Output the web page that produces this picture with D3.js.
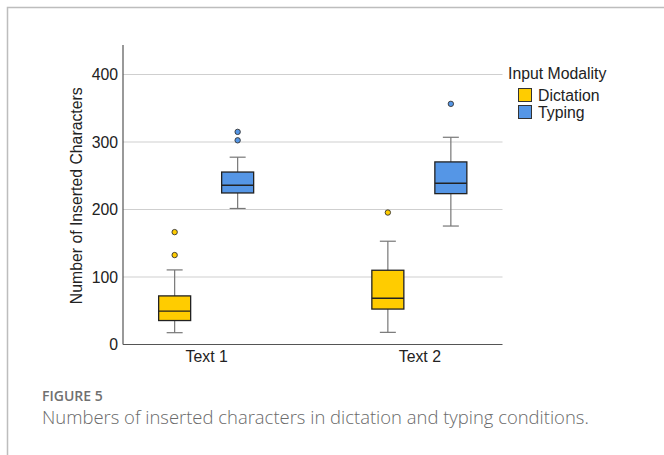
<!DOCTYPE html>
<html><head><meta charset="utf-8">
<script src="https://cdn.jsdelivr.net/npm/d3@7"></script>
<style>body{margin:0;background:#fff;}svg{display:block;}</style>
</head><body>
<svg id="c" width="664" height="455"></svg>
<script>
const categories = ["Text 1", "Text 2"];
const groups = ["Dictation", "Typing"];
const colors = ["#FFCC00", "#5596E6"];
// [whiskerLow, q1, median, q3, whiskerHigh]
const dictationStats = [[17.5, 35.5, 49.5, 72, 110.5], [18, 52.5, 68.5, 110, 153]];
const typingStats = [[201.5, 224.5, 236, 255.5, 277.5], [175.5, 223.5, 239, 270.5, 307]];
const dictationOutliers = [[132.5, 166.5], [195.5]];
const typingOutliers = [[302.5, 315], [356.5]];
const yTicks = [0, 100, 200, 300, 400];

const svg = d3.select("#c");
// frame
svg.append("path").attr("d", "M7.5,455 V7.5 H664").attr("fill", "none").attr("stroke", "#bdbdbd").attr("stroke-width", 1.5);

const L = 123, R = 502.5, T = 45, B = 344.5;
const y = d3.scaleLinear().domain([0, 400]).range([B, B - 270]);
const x = d3.scalePoint().domain(categories).range([L, R]).padding(0.39);
const off = d3.scalePoint().domain(groups).range([-31.5, 31.5]);
const bw = 32;

// gridlines
svg.append("g").selectAll("line").data(yTicks.filter(d => d > 0)).join("line")
  .attr("x1", L).attr("x2", R).attr("y1", d => y(d)).attr("y2", d => y(d))
  .attr("stroke", "#cfcfcf").attr("stroke-width", 1);

const font = "Liberation Sans, Arial, sans-serif";
const fs = 15.8;
// y axis
const ya = svg.append("g").attr("transform", `translate(${L},0)`)
  .call(d3.axisLeft(y).tickValues(yTicks).tickSize(0).tickPadding(5));
ya.select(".domain").remove();
ya.selectAll("text").attr("font-family", font).attr("font-size", fs).attr("fill", "#222");
const xa = svg.append("g").attr("transform", `translate(0,${B})`)
  .call(d3.axisBottom(x).tickSize(0).tickPadding(6.5));
xa.select(".domain").remove();
xa.selectAll("text").attr("font-family", font).attr("font-size", fs).attr("fill", "#222");

// axes lines
svg.append("line").attr("x1", L).attr("x2", L).attr("y1", T).attr("y2", B).attr("stroke", "#555").attr("stroke-width", 1.2);
svg.append("line").attr("x1", L).attr("x2", R).attr("y1", B).attr("y2", B).attr("stroke", "#555").attr("stroke-width", 1.2);

svg.append("text").attr("transform", `translate(81.5,${(T + B) / 2 + 1}) rotate(-90)`)
  .attr("text-anchor", "middle").attr("font-family", font).attr("font-size", fs).attr("fill", "#222")
  .text("Number of Inserted Characters");

const allStats = [dictationStats, typingStats];
const allOut = [dictationOutliers, typingOutliers];
groups.forEach((g, gi) => {
  categories.forEach((c, ci) => {
    const s = allStats[gi][ci];
    const cx = x(c) + off(g);
    const gg = svg.append("g");
    gg.append("line").attr("x1", cx).attr("x2", cx).attr("y1", y(s[0])).attr("y2", y(s[1])).attr("stroke", "#777").attr("stroke-width", 1.2);
    gg.append("line").attr("x1", cx).attr("x2", cx).attr("y1", y(s[3])).attr("y2", y(s[4])).attr("stroke", "#777").attr("stroke-width", 1.2);
    [s[0], s[4]].forEach(v => gg.append("line").attr("x1", cx - 8).attr("x2", cx + 8).attr("y1", y(v)).attr("y2", y(v)).attr("stroke", "#777").attr("stroke-width", 1.2));
    gg.append("rect").attr("x", cx - bw / 2).attr("width", bw).attr("y", y(s[3])).attr("height", y(s[1]) - y(s[3]))
      .attr("fill", colors[gi]).attr("stroke", "#222").attr("stroke-width", 1.3);
    gg.append("line").attr("x1", cx - bw / 2).attr("x2", cx + bw / 2).attr("y1", y(s[2])).attr("y2", y(s[2])).attr("stroke", "#222").attr("stroke-width", 1.4);
    gg.selectAll("circle").data(allOut[gi][ci]).join("circle")
      .attr("cx", cx).attr("cy", d => y(d)).attr("r", 2.7)
      .attr("fill", colors[gi]).attr("stroke", "#333").attr("stroke-width", 0.9);
  });
});

// legend
const lg = svg.append("g");
lg.append("text").attr("x", 508).attr("y", 79).attr("font-family", font).attr("font-size", fs).attr("fill", "#222").text("Input Modality");
groups.forEach((g, i) => {
  lg.append("rect").attr("x", 518.5).attr("y", 88.5 + i * 17).attr("width", 13).attr("height", 13)
    .attr("fill", colors[i]).attr("stroke", "#333").attr("stroke-width", 1);
  lg.append("text").attr("x", 538).attr("y", 100.5 + i * 17).attr("font-family", font).attr("font-size", fs).attr("fill", "#222").text(g);
});

// caption
svg.append("text").attr("x", 42).attr("y", 401).attr("font-family", "Open Sans, sans-serif").attr("font-size", 14)
  .attr("font-weight", 600).attr("fill", "#707070").text("FIGURE 5");
svg.append("text").attr("x", 42).attr("y", 423.5).attr("font-family", "Open Sans, sans-serif").attr("font-size", 18.45)
  .attr("font-weight", 300).attr("fill", "#6a6a6a").text("Numbers of inserted characters in dictation and typing conditions.");
</script>
</body></html>
